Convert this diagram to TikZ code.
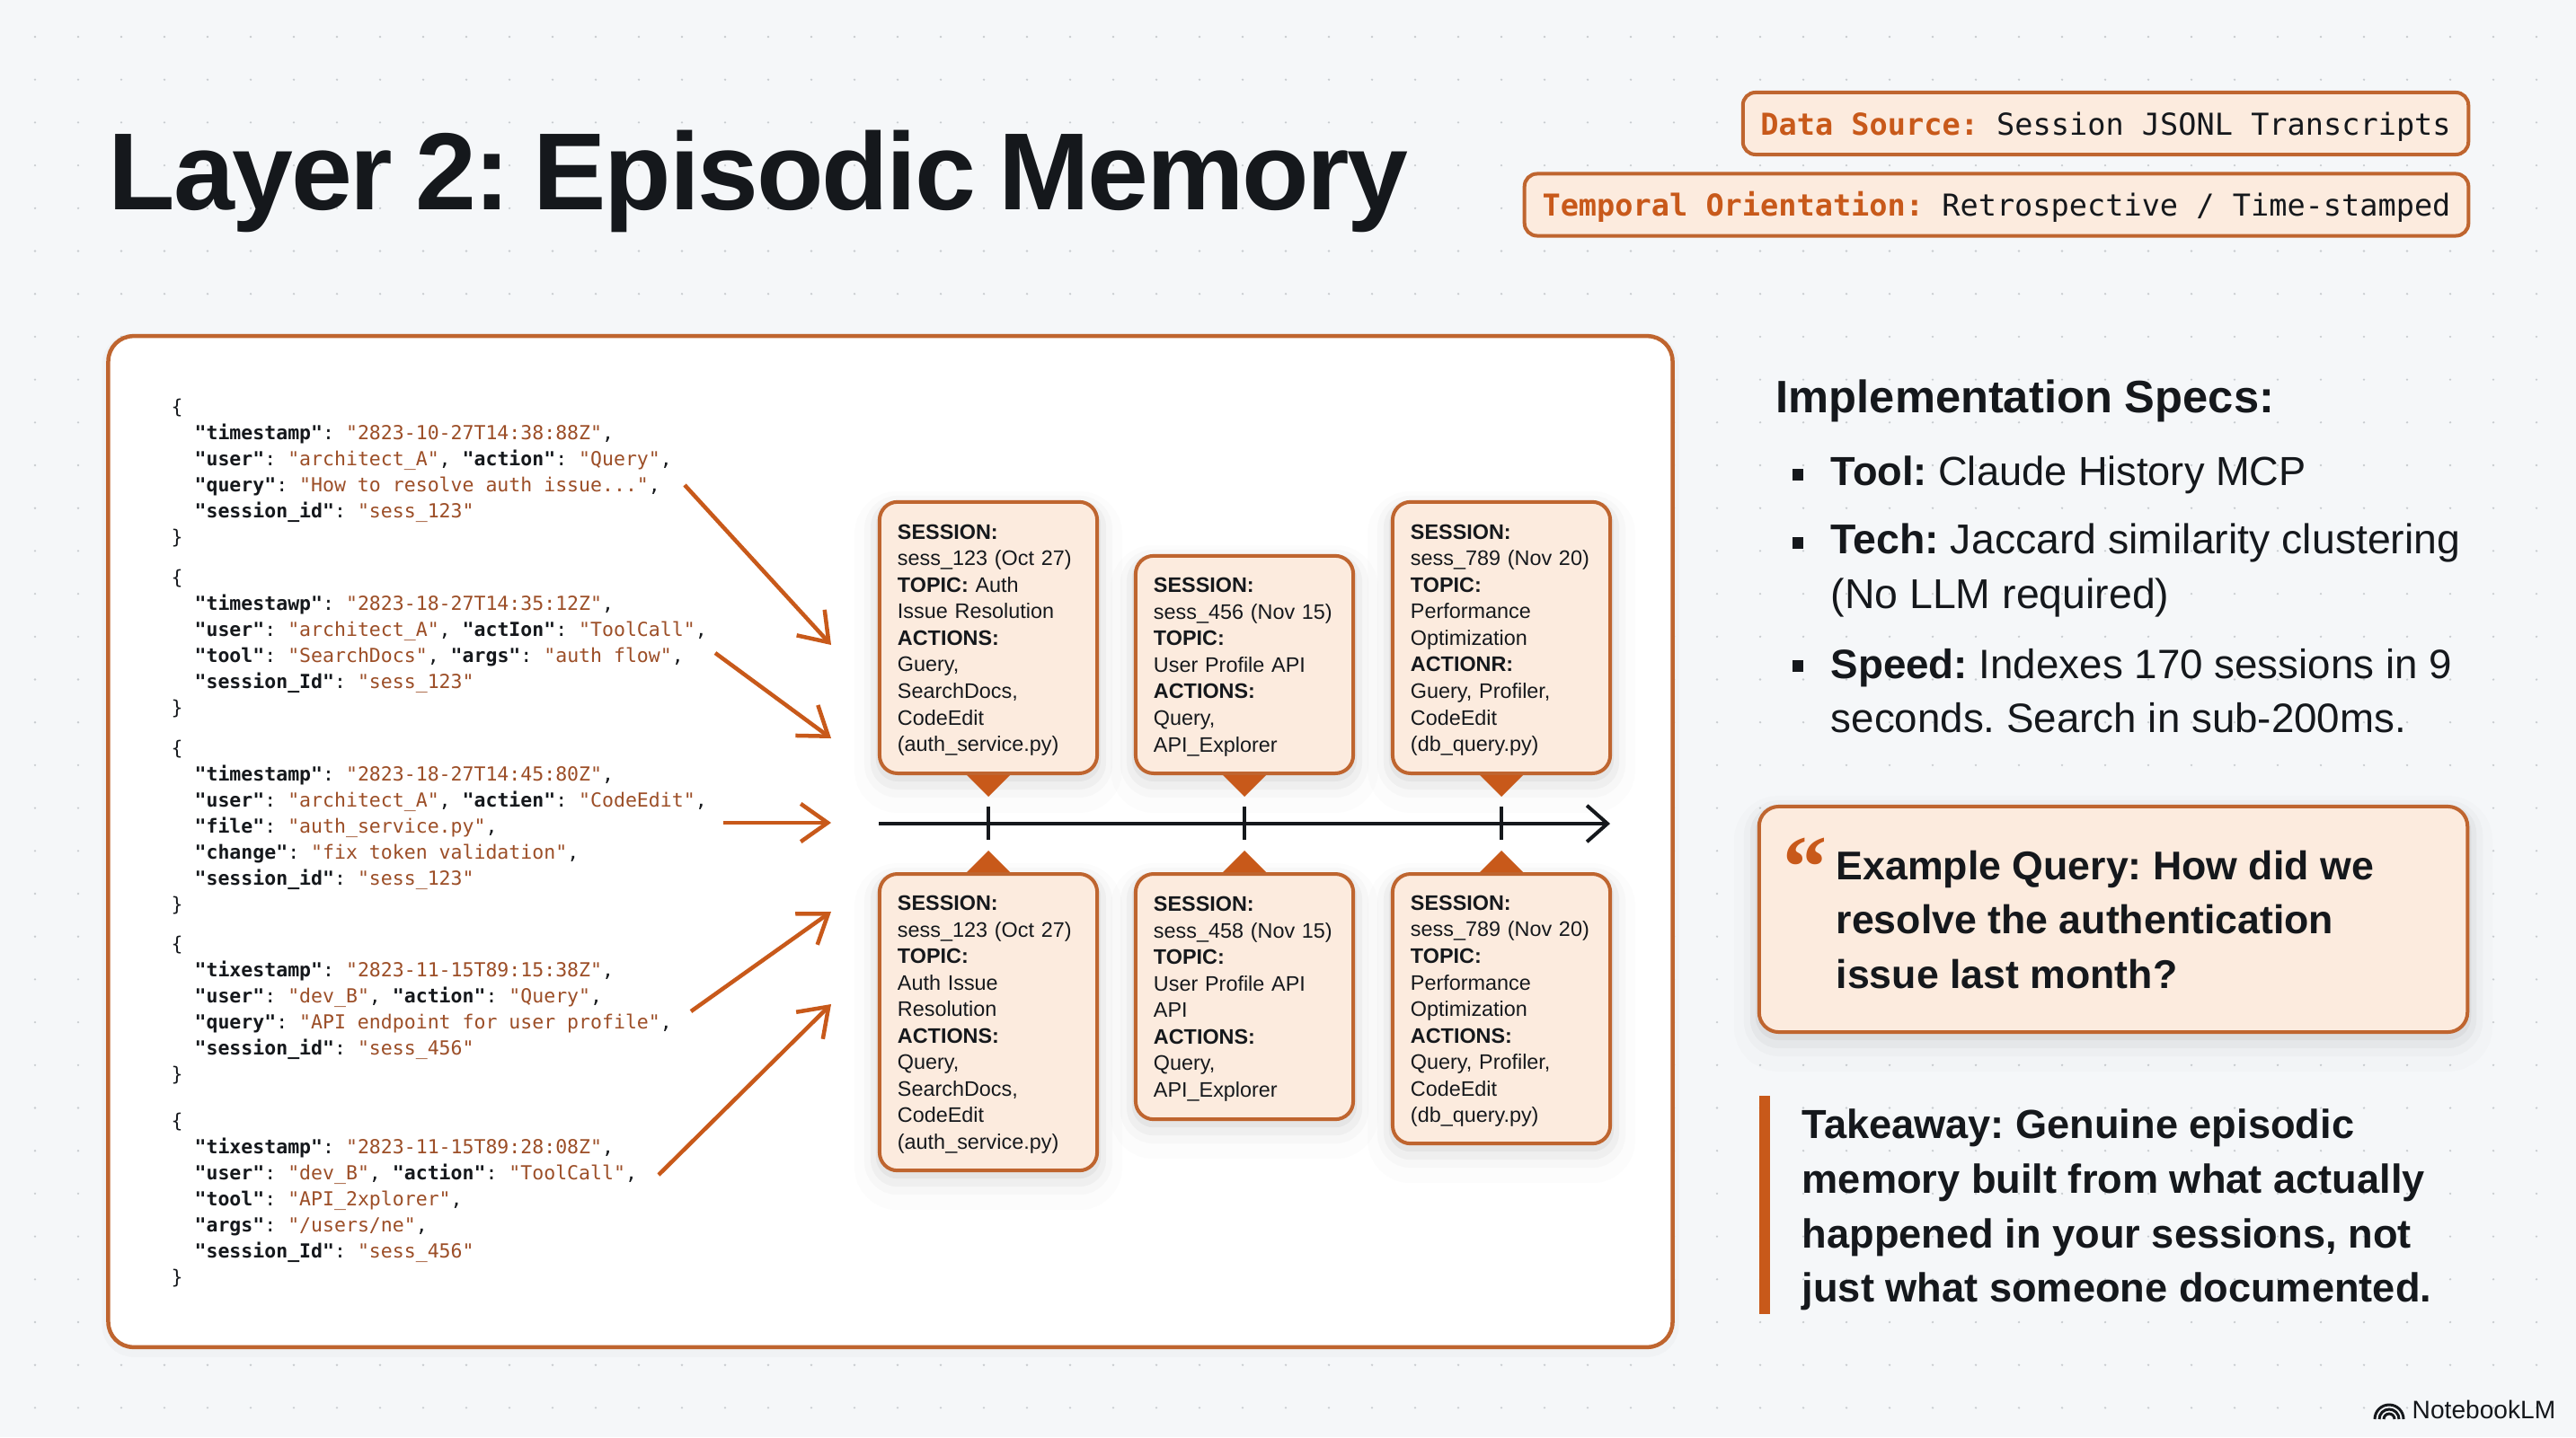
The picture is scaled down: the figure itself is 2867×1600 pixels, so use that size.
\documentclass[tikz,border=0pt]{standalone}
\usepackage{fontspec}
\setmainfont{Liberation Sans}
\newfontfamily\jsonfont{DejaVu Sans Mono}
\newfontfamily\titlefont[LetterSpace=-1.9,WordSpace=0.8]{Liberation Sans}
\newfontfamily\quotefont{Liberation Serif}
\usetikzlibrary{arrows.meta}
\definecolor{pagebg}{HTML}{F5F7F9}
\definecolor{griddot}{HTML}{C8CCD0}
\definecolor{rust}{HTML}{C8591A}
\definecolor{rustline}{HTML}{BF652F}
\definecolor{peach}{HTML}{FCEBDE}
\definecolor{jsonval}{HTML}{9C4E27}
\definecolor{inkc}{HTML}{15181C}
\newcommand{\fsz}[2]{\fontsize{#1}{#2}\selectfont}
\newcommand{\jk}[1]{{\bfseries\color{inkc}#1}}
\newcommand{\jv}[1]{{\color{jsonval}#1}}
\newcommand{\jin}{\phantom{xx}}
\newcommand{\hd}[1]{\textbf{#1}}
\frenchspacing
\tikzset{
  softshade/.style={
    preaction={draw=black,draw opacity=.012,line width=.56cm,transform canvas={yshift=-.16cm}},
    preaction={draw=black,draw opacity=.02,line width=.34cm,transform canvas={yshift=-.1cm}},
    preaction={draw=black,draw opacity=.03,line width=.2cm,transform canvas={yshift=-.08cm}},
    preaction={draw=black,draw opacity=.04,line width=.08cm,transform canvas={yshift=-.05cm}}},
  badge/.style={draw=rustline,fill=peach,line width=.04cm,rounded corners=.14cm,
    minimum height=.69cm,inner sep=0pt,text height=.31cm,text depth=.06cm,font=\jsonfont\fsz{9.55}{11}},
  sessbox/.style={draw=rustline,fill=peach,line width=.04cm,rounded corners=.2cm,softshade,
    minimum width=2.42cm,text width=2.02cm,align=left,inner xsep=.2cm,inner ysep=0pt,
    text=inkc,font=\fsz{6.65}{8.4},execute at begin node={\rule{0pt}{6.2pt}}},
  jsonrec/.style={anchor=west,align=left,inner sep=0pt,text=inkc,font=\jsonfont\fsz{6.12}{8.25}},
  feed/.style={draw=rust,line width=.045cm,-{Straight Barb[length=8.5pt,width=12pt]}},
  spec/.style={anchor=west,align=left,inner sep=0pt,text=inkc,font=\fsz{13.1}{17.1}},
  bulletmark/.style={fill=inkc,minimum width=.12cm,minimum height=.13cm,inner sep=0pt},
  pullout/.style={anchor=west,align=left,inner sep=0pt,text=inkc,font=\bfseries\fsz{12.7}{17.2}}
}
\begin{document}
\begin{tikzpicture}[x=0.01cm,y=-0.01cm]
    \useasboundingbox (0,0) rectangle (2867,1600);
    \fill[pagebg] (0,0) rectangle (2867,1600);
    \fill[griddot] \foreach \i in {0,...,59} {\foreach \j in {0,...,32} {(39+\i*48,41+\j*47.7) circle [radius=1.3]}};

    \node[anchor=base west,inner sep=0pt,text=inkc,font=\titlefont\bfseries\fsz{34.7}{40}] (title) at (120,234) {Layer 2: Episodic Memory};

    \node[badge,minimum width=8.07cm] (source) at (2343.5,137.5) {\textcolor{rust}{\bfseries Data Source:} \textcolor{inkc}{Session JSONL Transcripts}};
    \node[badge,minimum width=10.5cm] (temporal) at (2222,228) {\textcolor{rust}{\bfseries Temporal Orientation:} \textcolor{inkc}{Retrospective / Time-stamped}};

    \node[draw=rustline,fill=white,line width=.045cm,rounded corners=.28cm,minimum width=17.40cm,minimum height=11.25cm,
      preaction={draw=black,draw opacity=.02,line width=.14cm,transform canvas={yshift=-.04cm}}] (panel) at (991,937) {};

    \node[jsonrec] (rec1) at (190,527) {\{\\
      \jin\jk{"timestamp"}: \jv{"2823-10-27T14:38:88Z"},\\
      \jin\jk{"user"}: \jv{"architect\_A"}, \jk{"action"}: \jv{"Query"},\\
      \jin\jk{"query"}: \jv{"How to resolve auth issue..."},\\
      \jin\jk{"session\_id"}: \jv{"sess\_123"}\\
      \}};
    \node[jsonrec] (rec2) at (190,717) {\{\\
      \jin\jk{"timestawp"}: \jv{"2823-18-27T14:35:12Z"},\\
      \jin\jk{"user"}: \jv{"architect\_A"}, \jk{"actIon"}: \jv{"ToolCall"},\\
      \jin\jk{"tool"}: \jv{"SearchDocs"}, \jk{"args"}: \jv{"auth flow"},\\
      \jin\jk{"session\_Id"}: \jv{"sess\_123"}\\
      \}};
    \node[jsonrec] (rec3) at (190,921) {\{\\
      \jin\jk{"timestamp"}: \jv{"2823-18-27T14:45:80Z"},\\
      \jin\jk{"user"}: \jv{"architect\_A"}, \jk{"actien"}: \jv{"CodeEdit"},\\
      \jin\jk{"file"}: \jv{"auth\_service.py"},\\
      \jin\jk{"change"}: \jv{"fix token validation"},\\
      \jin\jk{"session\_id"}: \jv{"sess\_123"}\\
      \}};
    \node[jsonrec] (rec4) at (190,1125) {\{\\
      \jin\jk{"tixestamp"}: \jv{"2823-11-15T89:15:38Z"},\\
      \jin\jk{"user"}: \jv{"dev\_B"}, \jk{"action"}: \jv{"Query"},\\
      \jin\jk{"query"}: \jv{"API endpoint for user profile"},\\
      \jin\jk{"session\_id"}: \jv{"sess\_456"}\\
      \}};
    \node[jsonrec] (rec5) at (190,1336) {\{\\
      \jin\jk{"tixestamp"}: \jv{"2823-11-15T89:28:08Z"},\\
      \jin\jk{"user"}: \jv{"dev\_B"}, \jk{"action"}: \jv{"ToolCall"},\\
      \jin\jk{"tool"}: \jv{"API\_2xplorer"},\\
      \jin\jk{"args"}: \jv{"/users/ne"},\\
      \jin\jk{"session\_Id"}: \jv{"sess\_456"}\\
      \}};

    \coordinate (f1a) at (762,540);   \coordinate (f1b) at (925,718);
    \coordinate (f2a) at (796,727);   \coordinate (f2b) at (925,822);
    \coordinate (f3a) at (805,916);   \coordinate (f3b) at (925,916);
    \coordinate (f4a) at (769,1126);  \coordinate (f4b) at (925,1015);
    \coordinate (f5a) at (733,1308);  \coordinate (f5b) at (925,1118);
    \foreach \k in {1,...,5} \draw[feed] (f\k a)--(f\k b);

    \node[sessbox,anchor=south,minimum height=3.02cm] (up1) at (1100,863) {\hd{SESSION:}\\sess\_123 (Oct 27)\\\hd{TOPIC:} Auth\\Issue Resolution\\\hd{ACTIONS:}\\Guery,\\SearchDocs,\\CodeEdit\\(auth\_service.py)};
    \node[sessbox,anchor=south,minimum height=2.42cm] (up2) at (1385,863) {\hd{SESSION:}\\sess\_456 (Nov 15)\\\hd{TOPIC:}\\User Profile API\\\hd{ACTIONS:}\\Query,\\API\_Explorer};
    \node[sessbox,anchor=south,minimum height=3.02cm] (up3) at (1671,863) {\hd{SESSION:}\\sess\_789 (Nov 20)\\\hd{TOPIC:}\\Performance\\Optimization\\\hd{ACTIONR:}\\Guery, Profiler,\\CodeEdit\\(db\_query.py)};

    \node[sessbox,anchor=north,minimum height=3.30cm] (lo1) at (1100,971) {\hd{SESSION:}\\sess\_123 (Oct 27)\\\hd{TOPIC:}\\Auth Issue\\Resolution\\\hd{ACTIONS:}\\Query,\\SearchDocs,\\CodeEdit\\(auth\_service.py)};
    \node[sessbox,anchor=north,minimum height=2.73cm] (lo2) at (1385,971) {\hd{SESSION:}\\sess\_458 (Nov 15)\\\hd{TOPIC:}\\User Profile API\\API\\\hd{ACTIONS:}\\Query,\\API\_Explorer};
    \node[sessbox,anchor=north,minimum height=3.0cm] (lo3) at (1671,971) {\hd{SESSION:}\\sess\_789 (Nov 20)\\\hd{TOPIC:}\\Performance\\Optimization\\\hd{ACTIONS:}\\Query, Profiler,\\CodeEdit\\(db\_query.py)};

    \coordinate (axisA) at (978,917);
    \coordinate (axisB) at (1792,917);
    \draw[draw=inkc,line width=.04cm,-{Straight Barb[length=6.5pt,width=11.5pt]}] (axisA)--(axisB);
    \foreach \x in {1100,1385,1671} {
      \draw[inkc,line width=.035cm] (\x,898)--(\x,935);
      \fill[rust] (\x-24,863)--(\x+24,863)--(\x,887)--cycle;
      \fill[rust] (\x-24,971)--(\x+24,971)--(\x,947)--cycle;
    }

    \node[anchor=base west,inner sep=0pt,text=inkc,font=\bfseries\fsz{14.4}{17}] (specs) at (1976,459) {Implementation Specs:};
    \node[bulletmark] (b1) at (2001,528) {};
    \node[bulletmark] (b2) at (2001,604) {};
    \node[bulletmark] (b3) at (2001,741) {};
    \node[spec,font=\fsz{12.85}{17.1}] (tool) at (2037,529) {\textbf{Tool:} Claude History MCP};
    \node[spec,font=\fsz{13.2}{17.1}] (tech) at (2037,635) {\textbf{Tech:} Jaccard similarity clustering\\(No LLM required)};
    \node[spec,font=\fsz{13}{17.1}] (speed) at (2037,769) {\textbf{Speed:} Indexes 170 sessions in 9\\seconds. Search in sub-200ms.};

    \node[draw=rustline,fill=peach,line width=.04cm,rounded corners=.22cm,softshade,minimum width=7.88cm,minimum height=2.51cm] (querybox) at (2352,1023.5) {};
    \node[anchor=base west,inner sep=0pt,text=rust,font=\quotefont\bfseries\fsz{28}{28}] (quotemark) at (1984,998) {\textquotedblleft};
    \node[pullout] (querytext) at (2043,1024) {Example Query: How did we\\resolve the authentication\\issue last month?};

    \fill[rust] (1958,1220) rectangle (1970,1463);
    \node[pullout,font=\bfseries\fsz{12.85}{17.3}] (takeaway) at (2005,1347) {Takeaway: Genuine episodic\\memory built from what actually\\happened in your sessions, not\\just what someone documented.};

    \foreach \r in {6,11,16} \draw[inkc,line width=.03cm] (2659-\r,1580) arc [start angle=180,end angle=360,radius=\r];
    \node[anchor=base west,inner sep=0pt,text=inkc,font=\fsz{8}{10}] (brand) at (2684,1579) {NotebookLM};
\end{tikzpicture}
\end{document}
